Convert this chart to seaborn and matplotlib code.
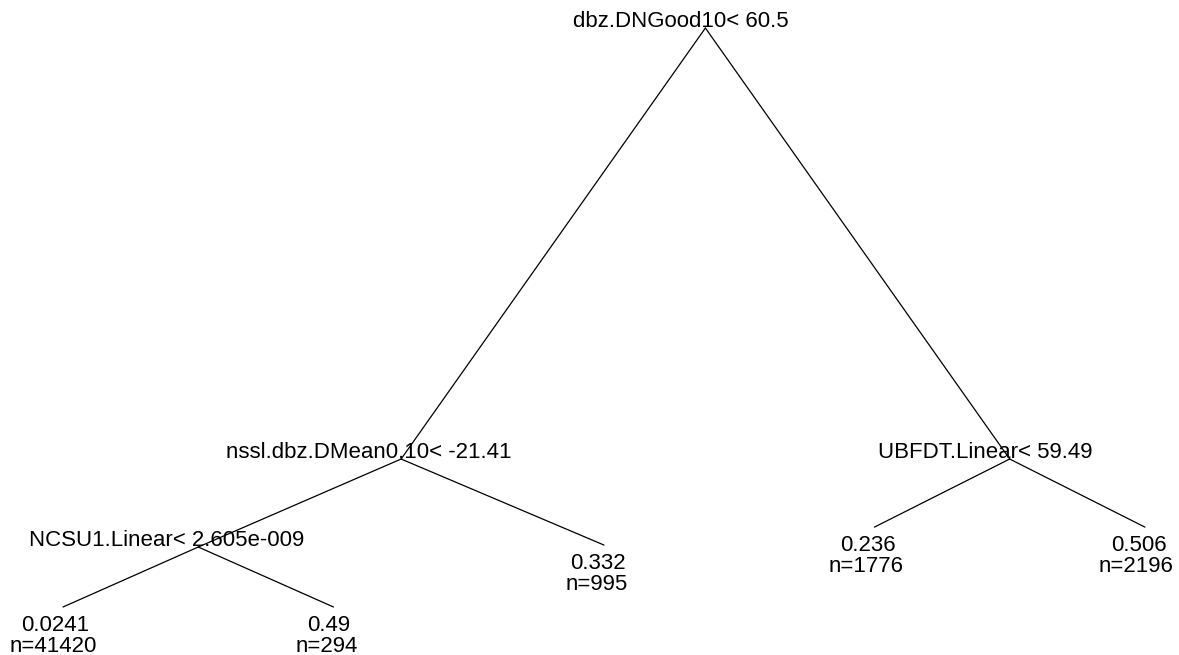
import matplotlib
matplotlib.use("Agg")
import matplotlib.pyplot as plt
import matplotlib.transforms as mtransforms
import numpy as np
import pandas as pd
import seaborn as sns

# Regression tree (rpart-style node numbering: children of k are 2k and 2k+1)
split_nodes = [1, 2, 3, 4]
split_labels = [
    "dbz.DNGood10< 60.5",
    "nssl.dbz.DMean0.10< -21.41",
    "UBFDT.Linear< 59.49",
    "NCSU1.Linear< 2.605e-009",
]
leaf_nodes = [8, 9, 5, 6, 7]          # left-to-right order
leaf_yval = ["0.0241", "0.49", "0.332", "0.236", "0.506"]
leaf_n = [41420, 294, 995, 1776, 2196]

# deviance-scaled node heights (root = 1)
node_ids = [1, 2, 3, 4, 5, 6, 7, 8, 9]
node_height = [1.0, 0.2556, 0.2556, 0.1036, 0.107, 0.138, 0.138, 0.0, 0.0]

sns.set_theme(style="white")
plt.rcParams["font.family"] = ["Liberation Sans", "DejaVu Sans"]

# horizontal layout: leaves at 1..n, internal nodes at the mean of their children
height = dict(zip(node_ids, node_height))
xpos = {nid: i + 1 for i, nid in enumerate(leaf_nodes)}


def place(nid):
    if nid in xpos:
        return xpos[nid]
    xpos[nid] = (place(2 * nid) + place(2 * nid + 1)) / 2
    return xpos[nid]


place(1)

edges = []
for e, nid in enumerate(n for n in node_ids if n != 1):
    parent = nid // 2
    edges.append({"edge": e, "x": xpos[parent], "y": height[parent], "order": 0})
    edges.append({"edge": e, "x": xpos[nid], "y": height[nid], "order": 1})
edge_df = pd.DataFrame(edges)

fig = plt.figure(figsize=(11.79, 6.55), dpi=100)
ax = fig.add_axes([0, 0, 1, 1])
sns.lineplot(data=edge_df, x="x", y="y", units="edge", estimator=None,
             sort=False, color="black", linewidth=0.9, ax=ax, legend=False)

ax.set_xlim(0.767, 5.126)
ax.set_ylim(-0.0829, 1.0484)
ax.axis("off")

fs = 16.0
px = 1 / fig.dpi
texts = []

for nid, lab in zip(split_nodes, split_labels):
    t = ax.text(xpos[nid], height[nid], lab, ha="center", va="baseline",
                fontsize=fs, color="black")
    texts.append((t, 1.5 * px))

for nid, yv, n in zip(leaf_nodes, leaf_yval, leaf_n):
    t1 = ax.text(xpos[nid], height[nid], yv, ha="center", va="baseline",
                 fontsize=fs, color="black")
    t2 = ax.text(xpos[nid], height[nid], f"n={n}", ha="center", va="baseline",
                 fontsize=fs, color="black")
    texts.append((t1, -23.5 * px))
    texts.append((t2, -45 * px))

# labels sit slightly left of their node, in proportion to their width
fig.canvas.draw()
renderer = fig.canvas.get_renderer()
for t, dy in texts:
    w = t.get_window_extent(renderer).width
    shift = mtransforms.ScaledTranslation(-0.115 * w * px, dy, fig.dpi_scale_trans)
    t.set_transform(ax.transData + shift)

fig.savefig("out.png", dpi=100, facecolor="white")
